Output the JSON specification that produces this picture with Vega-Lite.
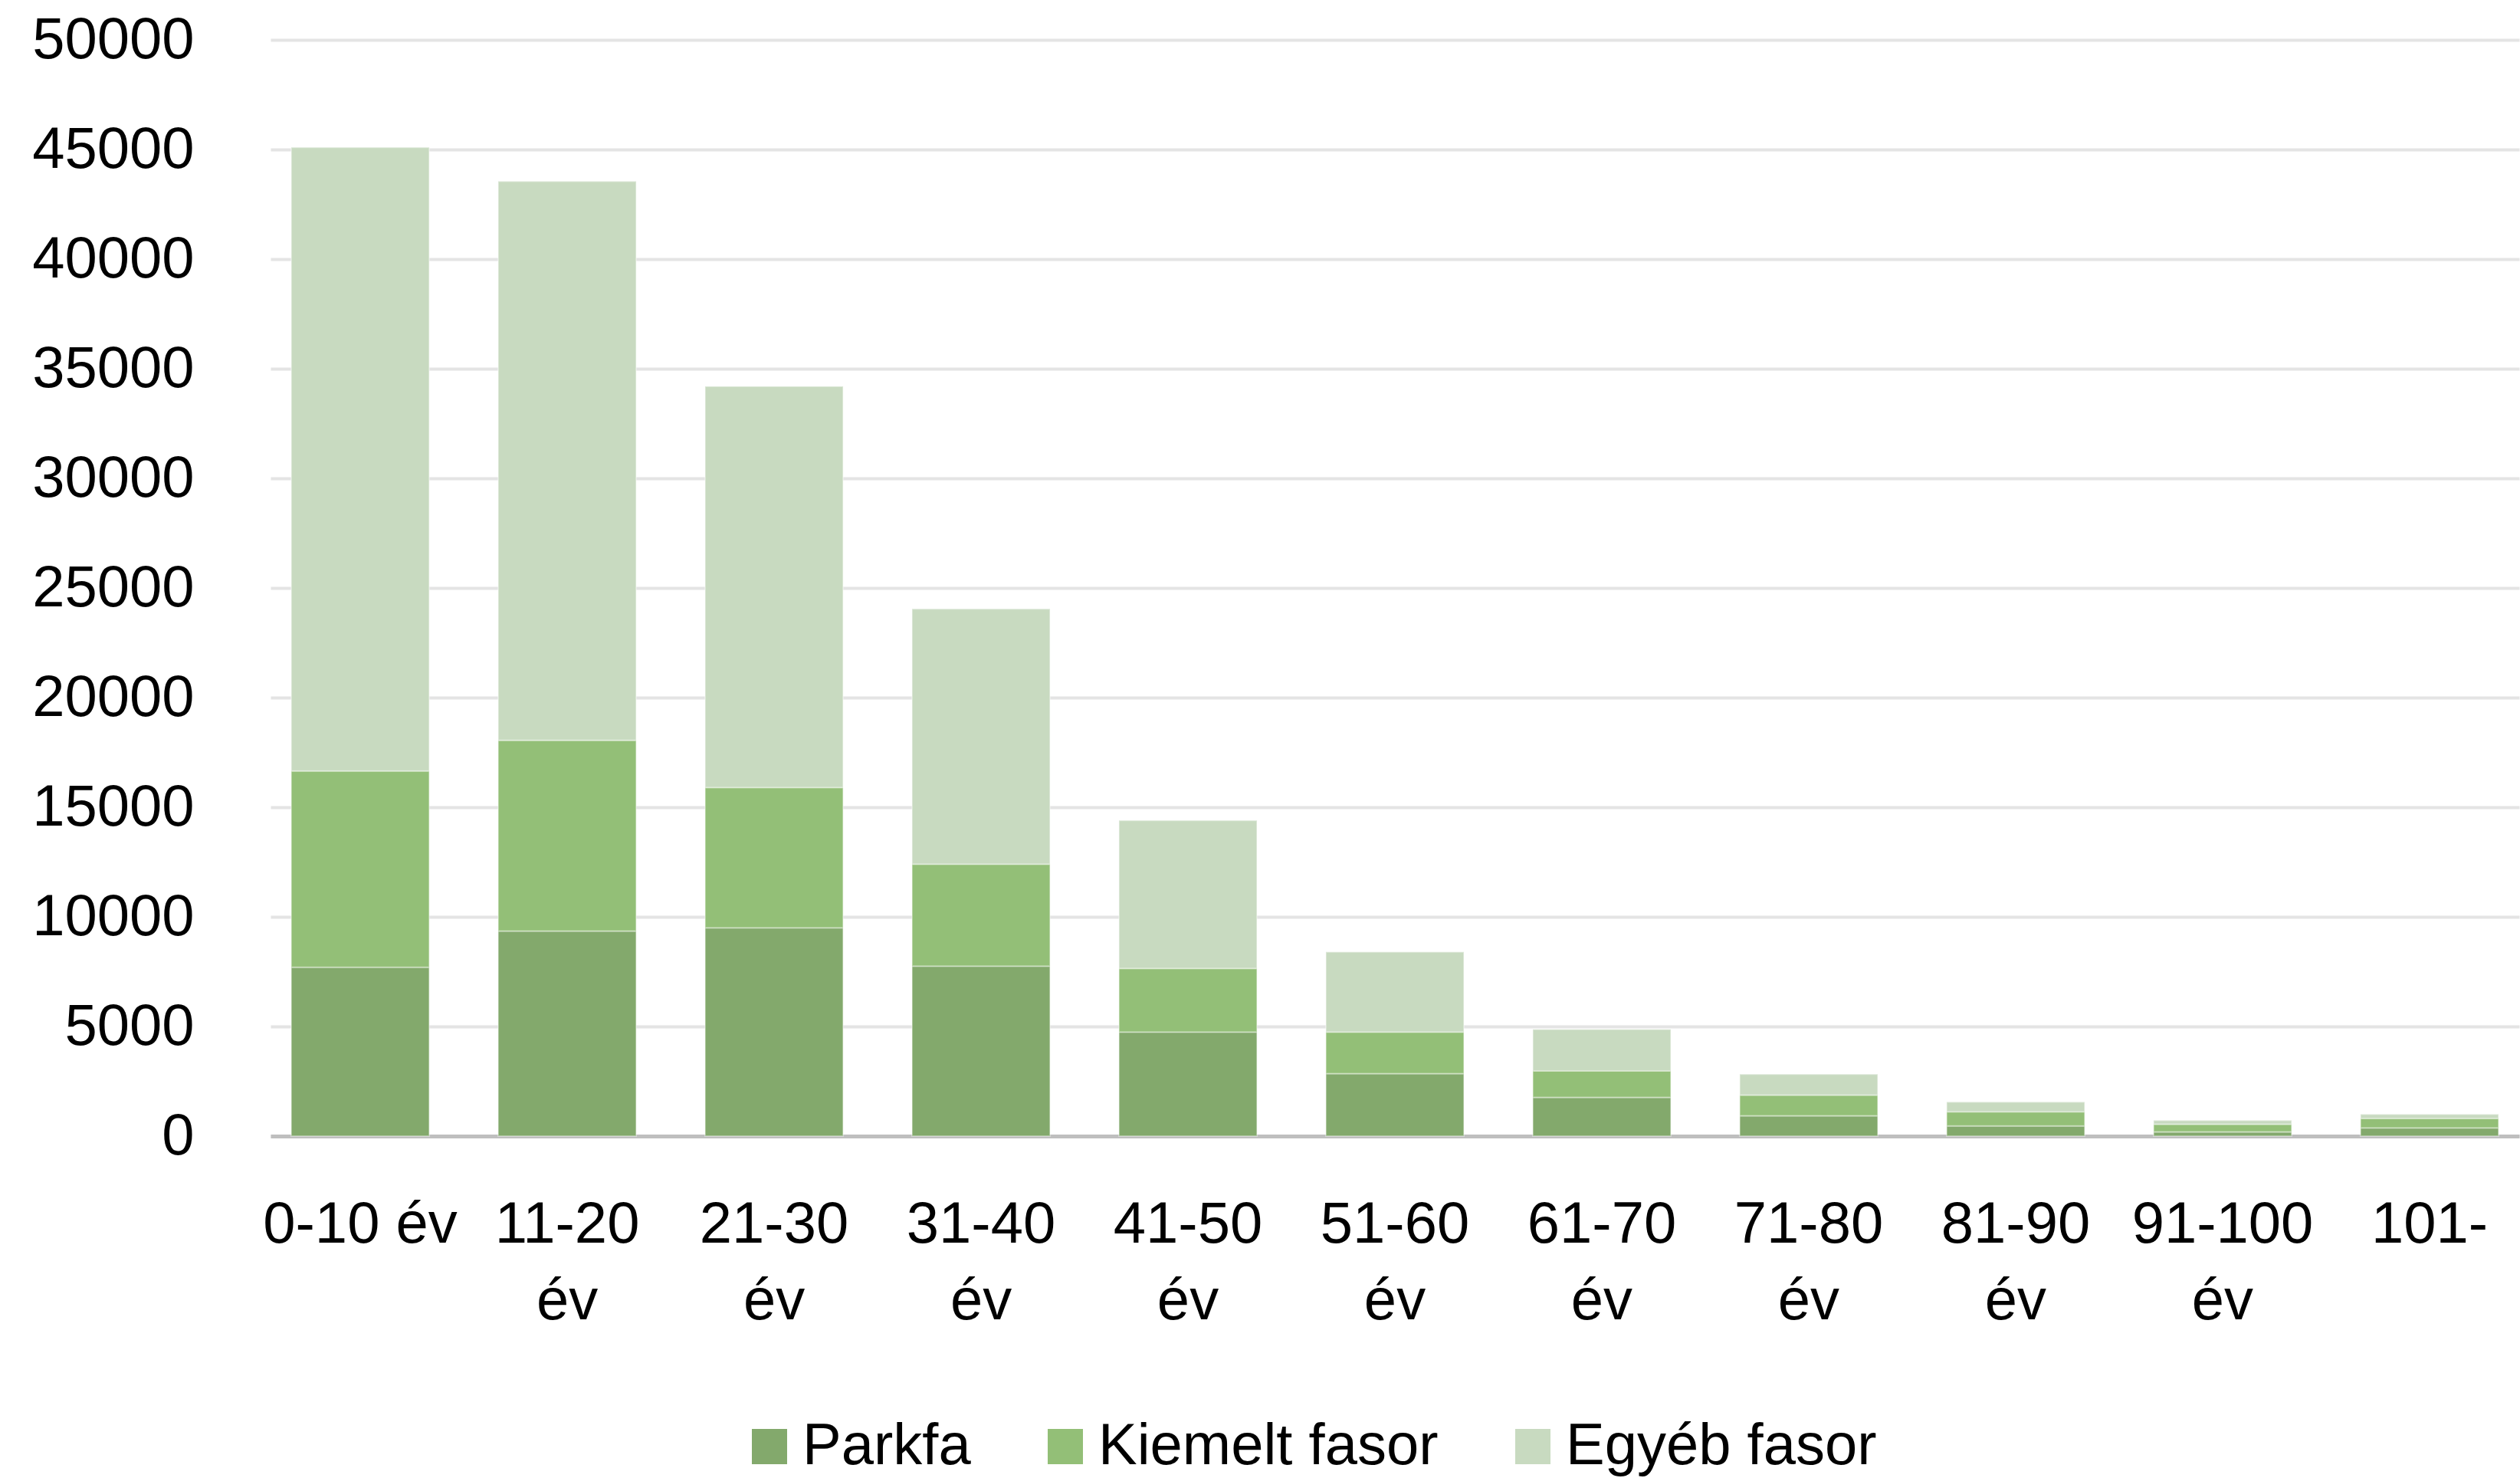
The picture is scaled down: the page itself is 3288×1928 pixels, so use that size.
{
  "$schema": "https://vega.github.io/schema/vega-lite/v6.json",
  "width": 2934,
  "height": 1430,
  "autosize": {"type": "none"},
  "padding": {"left": 353, "top": 52, "right": 1, "bottom": 446},
  "background": "white",
  "config": {
    "font": "Liberation Sans",
    "view": {"stroke": null}
  },
  "data": {
    "values": [
      {"kor": "0-10 év", "tipus": "Parkfa", "db": 7700},
      {"kor": "0-10 év", "tipus": "Kiemelt fasor", "db": 8950},
      {"kor": "0-10 év", "tipus": "Egyéb fasor", "db": 28450},
      {"kor": "11-20 év", "tipus": "Parkfa", "db": 9350},
      {"kor": "11-20 év", "tipus": "Kiemelt fasor", "db": 8700},
      {"kor": "11-20 év", "tipus": "Egyéb fasor", "db": 25500},
      {"kor": "21-30 év", "tipus": "Parkfa", "db": 9500},
      {"kor": "21-30 év", "tipus": "Kiemelt fasor", "db": 6400},
      {"kor": "21-30 év", "tipus": "Egyéb fasor", "db": 18300},
      {"kor": "31-40 év", "tipus": "Parkfa", "db": 7750},
      {"kor": "31-40 év", "tipus": "Kiemelt fasor", "db": 4650},
      {"kor": "31-40 év", "tipus": "Egyéb fasor", "db": 11650},
      {"kor": "41-50 év", "tipus": "Parkfa", "db": 4750},
      {"kor": "41-50 év", "tipus": "Kiemelt fasor", "db": 2900},
      {"kor": "41-50 év", "tipus": "Egyéb fasor", "db": 6750},
      {"kor": "51-60 év", "tipus": "Parkfa", "db": 2850},
      {"kor": "51-60 év", "tipus": "Kiemelt fasor", "db": 1900},
      {"kor": "51-60 év", "tipus": "Egyéb fasor", "db": 3650},
      {"kor": "61-70 év", "tipus": "Parkfa", "db": 1770},
      {"kor": "61-70 év", "tipus": "Kiemelt fasor", "db": 1200},
      {"kor": "61-70 év", "tipus": "Egyéb fasor", "db": 1900},
      {"kor": "71-80 év", "tipus": "Parkfa", "db": 925},
      {"kor": "71-80 év", "tipus": "Kiemelt fasor", "db": 945},
      {"kor": "71-80 év", "tipus": "Egyéb fasor", "db": 950},
      {"kor": "81-90 év", "tipus": "Parkfa", "db": 460},
      {"kor": "81-90 év", "tipus": "Kiemelt fasor", "db": 650},
      {"kor": "81-90 év", "tipus": "Egyéb fasor", "db": 450},
      {"kor": "91-100 év", "tipus": "Parkfa", "db": 190},
      {"kor": "91-100 év", "tipus": "Kiemelt fasor", "db": 350},
      {"kor": "91-100 év", "tipus": "Egyéb fasor", "db": 180},
      {"kor": "101-", "tipus": "Parkfa", "db": 380},
      {"kor": "101-", "tipus": "Kiemelt fasor", "db": 420},
      {"kor": "101-", "tipus": "Egyéb fasor", "db": 200}
    ]
  },
  "mark": {"type": "bar", "stroke": "#ffffff", "strokeWidth": 2, "strokeOpacity": 0.35},
  "encoding": {
    "x": {
      "field": "kor",
      "type": "nominal",
      "sort": null,
      "scale": {"paddingInner": 0.333, "paddingOuter": 0.1},
      "axis": {
        "title": null,
        "labelAngle": 0,
        "labelFontSize": 76,
        "labelColor": "#000000",
        "labelPadding": 78,
        "labelLineHeight": 100,
        "labelBaseline": "top",
        "labelLimit": 1000,
        "labelOverlap": false,
        "labelExpr": "datum.label === '0-10 év' ? datum.label : split(datum.label, ' ')",
        "ticks": false,
        "domainColor": "#bfbfbf",
        "domainWidth": 5,
        "grid": false
      }
    },
    "y": {
      "field": "db",
      "type": "quantitative",
      "stack": "zero",
      "scale": {"domain": [0, 50000], "nice": false},
      "axis": {
        "title": null,
        "values": [0, 5000, 10000, 15000, 20000, 25000, 30000, 35000, 40000, 45000, 50000],
        "format": "d",
        "labelFontSize": 76,
        "labelColor": "#000000",
        "labelPadding": 100,
        "labelLimit": 1000,
        "labelOverlap": false,
        "ticks": false,
        "domain": false,
        "grid": true,
        "gridColor": "#e4e4e4",
        "gridWidth": 4
      }
    },
    "color": {
      "field": "tipus",
      "type": "nominal",
      "sort": ["Parkfa", "Kiemelt fasor", "Egyéb fasor"],
      "scale": {
        "domain": ["Parkfa", "Kiemelt fasor", "Egyéb fasor"],
        "range": ["#83a96c", "#93bf77", "#c8dac0"]
      },
      "legend": {
        "title": null,
        "orient": "none",
        "direction": "horizontal",
        "legendX": 613,
        "legendY": 1797,
        "symbolType": "square",
        "symbolSize": 2116,
        "symbolStrokeWidth": 0,
        "labelFontSize": 76,
        "labelColor": "#000000",
        "labelOffset": 5,
        "columnPadding": 85,
        "labelLimit": 1000
      }
    },
    "order": {"field": "tipus", "sort": "descending"}
  }
}
